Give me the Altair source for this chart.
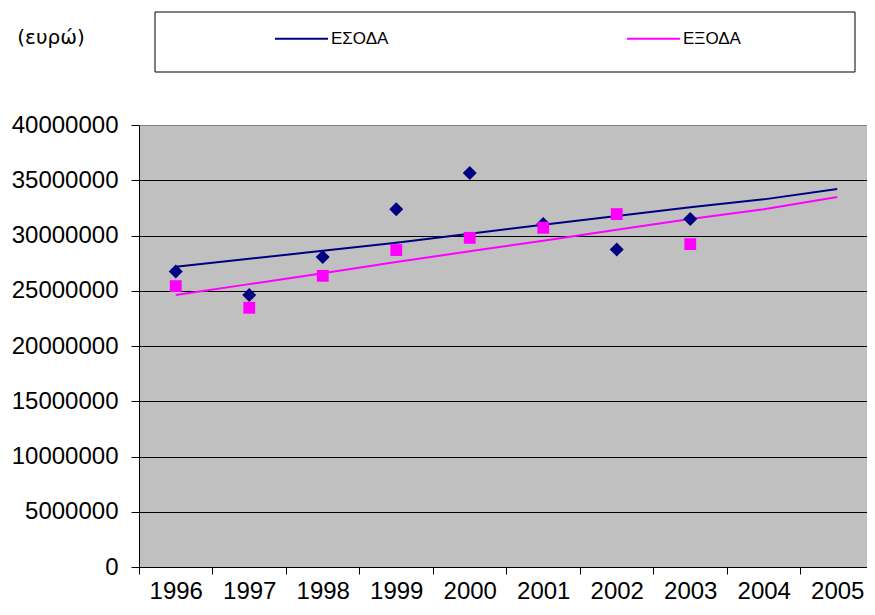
import altair as alt
import pandas as pd

# ---- data ----
years_obs = [1996, 1997, 1998, 1999, 2000, 2001, 2002, 2003]
esoda = [26750000, 24610000, 28050000, 32370000, 35650000, 31040000, 28740000, 31490000]
exoda = [25420000, 23460000, 26350000, 28680000, 29790000, 30700000, 31940000, 29220000]

years_trend = [1996, 1997, 1998, 1999, 2000, 2001, 2002, 2003, 2004, 2005]
trend_esoda = [27170000, 27890000, 28610000, 29350000, 30160000, 30970000, 31770000, 32560000, 33270000, 34200000]
trend_exoda = [24610000, 25600000, 26590000, 27600000, 28570000, 29530000, 30510000, 31500000, 32370000, 33480000]

series_names = ["ΕΣΟΔΑ", "ΕΞΟΔΑ"]
series_colors = ["#000080", "#FF00FF"]
unit_label = ["(ευρώ)"]
y_ticks = [0, 5000000, 10000000, 15000000, 20000000, 25000000, 30000000, 35000000, 40000000]

FONT = "Liberation Sans"
PLOT_W = 728
CAT_W = 73.5

df_esoda = pd.DataFrame({"year": years_obs, "value": esoda})
df_exoda = pd.DataFrame({"year": years_obs, "value": exoda})
df_trend = pd.concat([
    pd.DataFrame({"year": years_trend, "value": trend_esoda, "series": series_names[0]}),
    pd.DataFrame({"year": years_trend, "value": trend_exoda, "series": series_names[1]}),
])
df_unit = pd.DataFrame({"label": unit_label})

x_enc = alt.X(
    "year:Q",
    scale=alt.Scale(domain=[1995.5, 1995.5 + PLOT_W / CAT_W], nice=False, zero=False),
    axis=alt.Axis(
        values=[1995.5 + i for i in range(10)],
        labelExpr="format(datum.value + 0.5, 'd')",
        labelOffset=CAT_W / 2,
        labelAlign="center",
        labelBound=False,
        labelOverlap=False,
        labelFlush=False,
        tickSize=7,
        tickColor="black",
        domainColor="black",
        labelPadding=5,
        labelFont=FONT,
        labelFontSize=24,
        labelColor="black",
        grid=False,
        title=None,
    ),
)
y_enc = alt.Y(
    "value:Q",
    scale=alt.Scale(domain=[0, 40000000], nice=False),
    axis=alt.Axis(
        values=y_ticks,
        format="d",
        tickSize=8,
        tickColor="black",
        domainColor="black",
        labelPadding=13,
        labelFont=FONT,
        labelFontSize=24,
        labelColor="black",
        grid=True,
        gridColor={"condition": {"test": "datum.value >= 40000000", "value": "#808080"}, "value": "black"},
        gridOpacity=1,
        gridWidth=1,
        title=None,
    ),
)

box = alt.Chart(df_unit).mark_rect(fill="white", stroke="black", strokeWidth=1).encode(
    x=alt.value(16), x2=alt.value(716), y=alt.value(-113), y2=alt.value(-53)
)

unit_text = alt.Chart(df_unit).mark_text(
    font="DejaVu Sans", fontSize=20, color="black", align="center", baseline="middle"
).encode(text="label:N", x=alt.value(-88), y=alt.value(-87))

lines = alt.Chart(df_trend).mark_line(strokeWidth=2).encode(
    x=x_enc,
    y=y_enc,
    color=alt.Color(
        "series:N",
        scale=alt.Scale(domain=series_names, range=series_colors),
        legend=alt.Legend(
            orient="none",
            legendX=135,
            legendY=-114,
            direction="horizontal",
            title=None,
            symbolType="stroke",
            symbolSize=2809,
            symbolStrokeWidth=2,
            labelFont=FONT,
            labelFontSize=17,
            labelColor="black",
            labelOffset=2,
            columnPadding=234,
            padding=0,
        ),
    ),
)

pts_esoda = alt.Chart(df_esoda).mark_point(
    shape="diamond", filled=True, size=196, color="#000080", opacity=1
).encode(x="year:Q", y="value:Q")

pts_exoda = alt.Chart(df_exoda).mark_point(
    shape="square", filled=True, size=140, color="#FF00FF", opacity=1
).encode(x="year:Q", y="value:Q")

chart = alt.layer(box, unit_text, lines, pts_esoda, pts_exoda).properties(
    width=PLOT_W,
    height=442,
    autosize=alt.AutoSizeParams(type="none"),
    padding={"left": 131, "top": 117, "right": 0, "bottom": 36},
).configure_view(fill="#C0C0C0", stroke="#808080", strokeWidth=1)

chart.save("out.html", embed_options={"renderer": "svg", "actions": False})
